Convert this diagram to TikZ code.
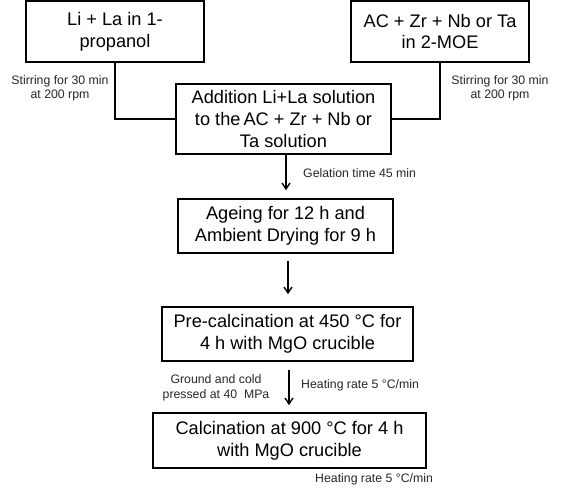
\documentclass[tikz,border=0pt]{standalone}
\usepackage{fontspec}
\setmainfont{Liberation Sans}
\usetikzlibrary{arrows.meta}
\begin{document}
\begin{tikzpicture}[x=1pt,y=-1pt,
  stepbox/.style={draw=black,line width=1.6pt,rectangle,align=center,inner sep=0pt,
    font=\fontsize{18.2}{21.8}\selectfont},
  lbl/.style={align=center,inner sep=0pt,text=black!85,font=\fontsize{12.3}{14.5}\selectfont},
  conn/.style={line width=1.6pt},
  arr/.style={line width=1.6pt,-{Straight Barb[length=6pt,width=8pt,line width=1.4pt]}}]
\useasboundingbox (0,0) rectangle (561,493);
\node[stepbox,minimum width=178pt,minimum height=61pt] (b1) at (115,31.5) {Li + La in 1-\\propanol};
\node[stepbox,minimum width=178pt,minimum height=61pt] (b2) at (440,31.5) {AC + Zr + Nb or Ta\\in 2-MOE};
\node[stepbox,minimum width=215pt,minimum height=70pt] (b3) at (283.5,119) {Addition Li+La solution\\to the\,AC + Zr + Nb or\\Ta solution};
\node[stepbox,minimum width=215pt,minimum height=54pt] (b4) at (285.5,226) {Ageing for 12 h and\\Ambient Drying for 9 h};
\node[stepbox,minimum width=251pt,minimum height=54pt] (b5) at (287.5,334) {Pre-calcination at 450 °C for\\4 h with MgO crucible};
\node[stepbox,minimum width=273pt,minimum height=55pt] (b6) at (289.5,440.5) {Calcination at 900 °C for 4 h\\with MgO crucible};
\node[lbl] (l1) at (60,88.5) {Stirring for 30 min\\at 200 rpm};
\node[lbl] (l2) at (500,88.5) {Stirring for 30 min\\at 200 rpm};
\node[lbl,anchor=west] (l3) at (303,173) {Gelation time 45 min};
\node[lbl] (l4) at (216,388) {Ground and cold\\pressed at 40~~MPa};
\node[lbl,anchor=west] (l5) at (301,385) {Heating rate 5 °C/min};
\node[lbl,anchor=west] (l6) at (315,479) {Heating rate 5 °C/min};
\draw[conn] (b1.south) |- (b3.west);
\draw[conn] (b2.south) |- (b3.east);
\draw[arr,shorten >=8pt] ([xshift=2.5pt]b3.south) -- ([xshift=2.5pt]b3.south |- b4.north);
\draw[arr,shorten <=7pt,shorten >=12pt] ([xshift=2.5pt]b4.south) -- ([xshift=2.5pt]b4.south |- b5.north);
\draw[arr,shorten <=8pt,shorten >=7pt] ([xshift=1.5pt]b5.south) -- ([xshift=1.5pt]b5.south |- b6.north);
\end{tikzpicture}
\end{document}
